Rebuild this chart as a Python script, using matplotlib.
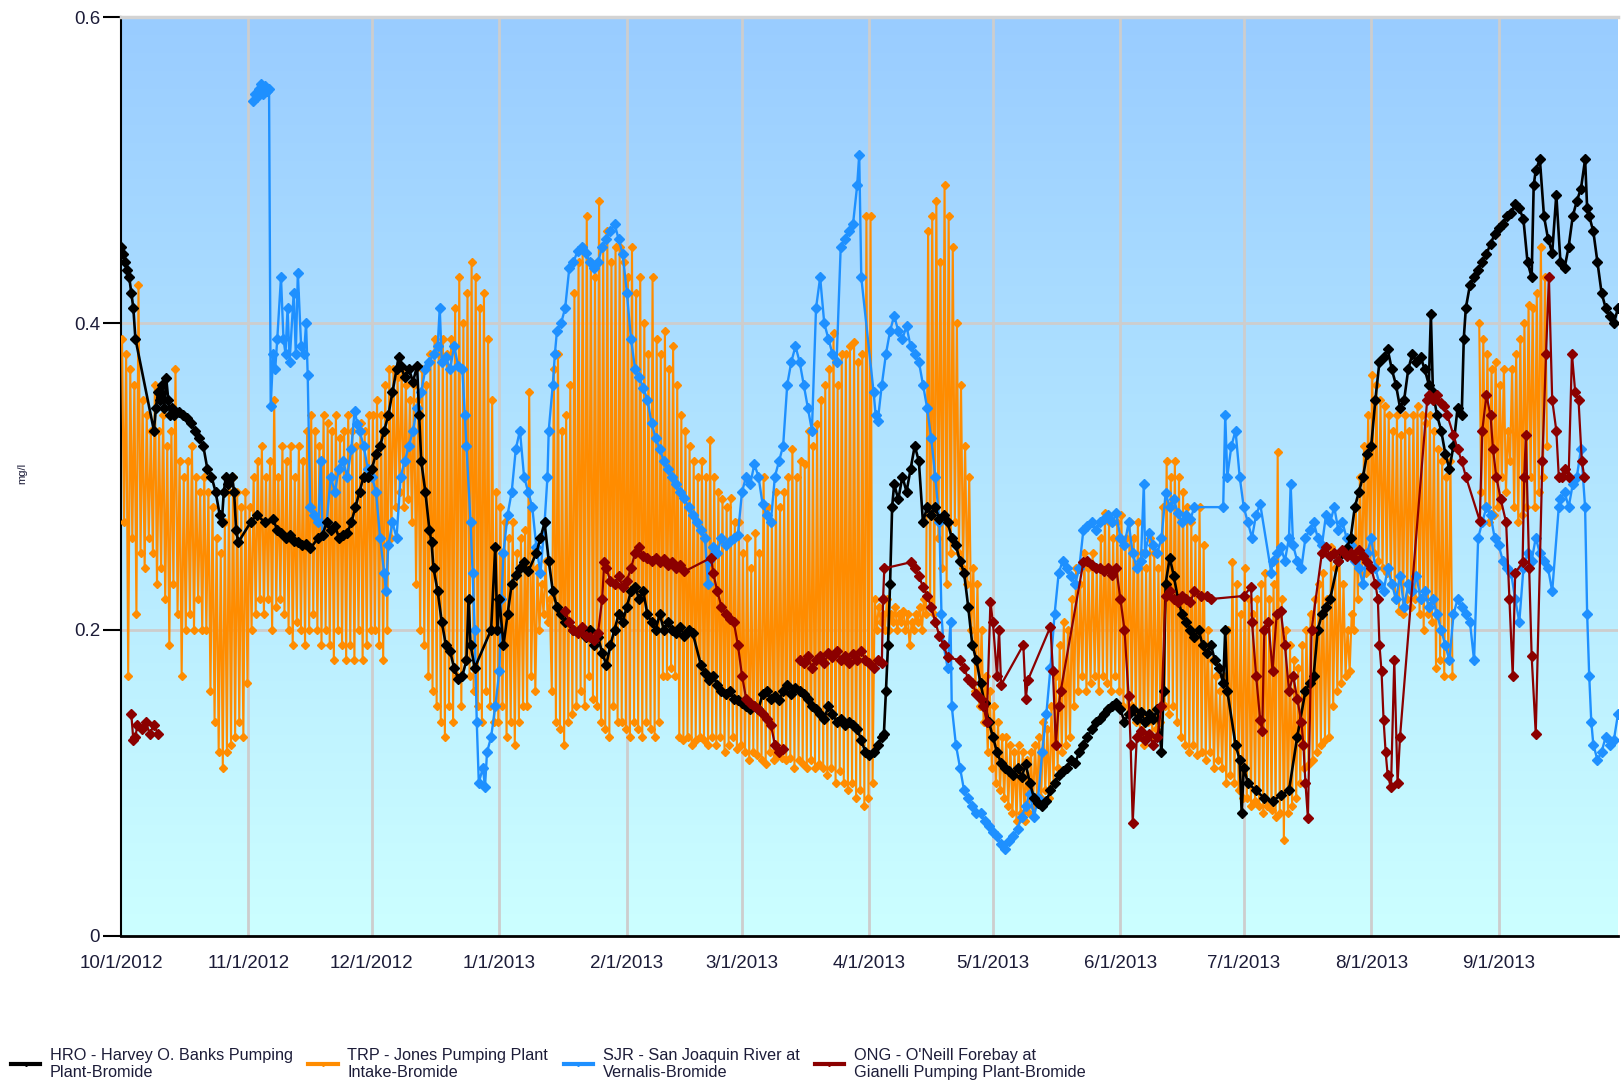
import datetime as dt
import numpy as np
import matplotlib
matplotlib.use("Agg")
import matplotlib.pyplot as plt
import matplotlib.dates as mdates
from matplotlib.colors import LinearSegmentedColormap
from matplotlib.lines import Line2D

plt.rcParams['font.family'] = ['Liberation Sans', 'DejaVu Sans']

# days counted from 10/1/2012
start = dt.datetime(2012, 10, 1)

# HRO - Harvey O. Banks (black)
hro_pts = [
    (0, .45), (.5, .445), (1, .44), (1.5, .435), (2, .43), (2.5, .42), (3, .41), (3.5, .39),
    (8, .33), (8.5, .345), (9, .355), (9.5, .35), (10, .36), (10.5, .345), (11, .364), (11.5, .35),
    (12, .34), (12.5, .345), (13, .34), (14, .342), (15, .34), (16, .338), (17, .335), (18, .33),
    (19, .325), (20, .32), (21, .305), (22, .30), (23, .29), (24, .275), (24.5, .27), (25, .29),
    (25.5, .30), (26, .295), (27, .30), (27.5, .29), (28, .265), (28.5, .257), (31.5, .27), (33, .275),
    (35, .27), (37, .272), (38, .265), (39, .263), (40, .26), (41, .262), (42, .258), (43, .257),
    (44, .255), (45, .256), (46, .253), (48, .26), (49, .262), (50, .27), (51, .265), (52, .268),
    (53, .26), (54, .262), (55, .263), (56, .27), (57, .28), (58, .29), (59, .30), (60, .30),
    (61, .305), (62, .315), (63, .32), (64, .33), (65, .34), (66, .355), (67, .37), (67.5, .378),
    (68, .372), (69, .365), (70, .37), (71, .362), (72, .372), (72.5, .34), (73, .31), (74, .29),
    (75, .265), (75.5, .257), (76, .24), (77, .225), (78, .205), (79, .19), (80, .186), (81, .175),
    (82, .168), (83, .17), (84, .18), (84.5, .22), (85, .19), (86, .175), (90, .20), (91, .254),
    (91.5, .20), (92, .22), (93, .19), (94, .21), (95, .23), (96, .236), (97, .24), (98, .244),
    (99, .238), (101, .25), (102, .26), (103, .27), (104, .245), (105, .225), (106, .215), (107, .21),
    (108, .205), (110, .20), (112, .20), (113, .195), (114, .20), (115, .19), (116, .195), (117, .185),
    (118, .177), (119, .19), (120, .20), (121, .21), (122, .205), (123, .215), (124, .225), (125, .228),
    (126, .22), (127, .225), (128, .21), (129, .205), (130, .20), (131, .21), (132, .20), (133, .205),
    (134, .20), (135, .198), (136, .202), (137, .196), (138, .20), (139, .198), (141, .177), (142, .172),
    (143, .167), (144, .17), (145, .164), (146, .16), (147, .158), (148, .16), (149, .155), (150, .154),
    (151, .152), (152, .15), (153, .148), (154, .15), (155, .148), (156, .158), (157, .16), (158, .155),
    (159, .157), (160, .154), (161, .16), (162, .164), (163, .158), (164, .162), (165, .16), (166, .158),
    (167, .155), (168, .15), (169, .148), (170, .145), (171, .142), (172, .15), (173, .145), (174, .14),
    (175, .142), (176, .138), (177, .14), (178, .138), (179, .135), (180, .128), (181, .12), (182, .118),
    (183, .12), (184, .125), (185, .13), (185.5, .132), (186, .16), (186.5, .19), (187, .23), (187.5, .28),
    (188, .295), (189, .285), (190, .30), (191, .29), (192, .305), (193, .32), (194, .31), (195, .27),
    (196, .28), (197, .275), (198, .28), (199, .272), (200, .275), (201, .27), (202, .26), (203, .255),
    (204, .245), (205, .237), (206, .215), (207, .19), (208, .18), (209, .165), (210, .152), (211, .14),
    (212, .13), (213, .12), (214, .113), (215, .11), (216, .108), (217, .105), (218, .11), (219, .104),
    (220, .112), (221, .10), (222, .09), (223, .087), (224, .085), (225, .088), (226, .095), (227, .10),
    (228, .105), (229, .108), (230, .11), (231, .115), (232, .113), (233, .12), (234, .125), (235, .13),
    (236, .135), (237, .14), (238, .142), (239, .145), (240, .148), (241, .15), (242, .152), (243, .148),
    (244, .14), (245, .145), (246, .148), (247, .142), (248, .146), (249, .14), (250, .145), (251, .142),
    (252, .148), (253, .12), (253.5, .16), (254, .23), (255, .247), (256, .235), (257, .22), (258, .21),
    (259, .205), (260, .20), (261, .195), (262, .20), (263, .19), (264, .185), (265, .19), (266, .18),
    (267, .175), (268, .165), (268.5, .20), (269, .16), (271, .125), (272, .115), (272.5, .08), (273, .11),
    (274, .10), (276, .095), (278, .09), (280, .088), (282, .092), (284, .095), (286, .13), (288, .16),
    (289, .165), (290, .17), (291, .20), (292, .21), (293, .215), (294, .22), (296, .245), (297, .25),
    (298, .253), (299, .26), (300, .28), (301, .29), (302, .30), (303, .315), (304, .32), (305, .35),
    (306, .375), (307, .378), (308, .383), (309, .37), (310, .36), (311, .345), (312, .35), (313, .37),
    (314, .38), (315, .375), (316, .378), (317, .37), (318, .36), (318.5, .406), (319, .355), (320, .34),
    (321, .33), (322, .315), (323, .305), (324, .32), (325, .345), (326, .34), (326.5, .39), (327, .41),
    (328, .425), (329, .43), (330, .435), (331, .44), (332, .445), (333, .452), (334, .458), (335, .462),
    (336, .465), (337, .47), (338, .472), (339, .478), (340, .475), (341, .468), (342, .44), (343, .43),
    (343.5, .49), (344, .50), (345, .507), (346, .47), (347, .455), (348, .446), (349, .484), (350, .44),
    (351, .436), (352, .45), (353, .47), (354, .48), (355, .488), (356, .507), (356.5, .475), (357, .47),
    (358, .46), (359, .44), (360, .42), (361, .41), (362, .405), (363, .40), (364, .41),
]

# TRP - Jones Pumping Plant (orange), daily high / low, None = no data
trp_hi = [
    .39, .38, .37, .36, .425, .35, .34, .33, .36, .33,
    .34, .32, .33, .37, .31, .30, .31, .32, .30, .29,
    .30, .29, .28, .26, .25, .27, .29, .30, .29, .28,
    .29, .28, .30, .31, .32, .30, .31, .35, .30, .32,
    .31, .32, .30, .32, .31, .33, .34, .33, .32, .34,
    .335, .33, .34, .325, .33, .34, .33, .32, .335, .33,
    .34, .34, .35, .34, .36, .37, .37, .365, .37, .36,
    .35, .36, .35, .37, .36, .38, .39, .38, .39, .38,
    .39, .41, .43, .40, .42, .44, .43, .41, .42, .39,
    .35, .29, .28, .27, .26, .27, .25, .26, .265, .355,
    .25, .24, .23, .245, .22, .37, .38, .33, .34, .36,
    .42, .44, .45, .47, .44, .43, .48, .45, .46, .44,
    .45, .45, .44, .43, .45, .42, .43, .40, .38, .43,
    .39, .38, .395, .37, .385, .36, .34, .33, .32, .31,
    .30, .31, .30, .324, .30, .29, .285, .28, .286, .27,
    .27, .25, .26, .24, .263, .25, .30, .28, .27, .29,
    .28, .29, .30, .318, .30, .31, .308, .33, .32, .334,
    .35, .36, .37, .394, .36, .38, .38, .385, .388, .375,
    .38, .47, .47, .22, .215, .21, .22, .21, .215, .21,
    .212, .21, .205, .21, .215, .22, .46, .47, .48, .44,
    .49, .47, .45, .40, .36, .32, .30, .24, .23, .20,
    .17, .16, .15, .14, .13, .13, .125, .12, .125, .12,
    .115, .12, .125, .13, .14, .135, .15, .17, .19, .205,
    .20, .22, .24, .23, .25, .24, .25, .24, .26, .276,
    .27, .26, .27, .275, .26, .27, .26, .27, .25, .24,
    .26, .25, .24, .28, .31, .30, .31, .30, .29, .28,
    .27, .26, .28, .255, .20, .18, .17, .16, .17, .20,
    .244, .23, .21, .24, .22, .21, .22, .23, .237, .22,
    .23, .316, .22, .20, .19, .18, .175, .19, .20, .21,
    .22, .23, .237, .22, .254, .24, .25, .23, .20, .21,
    .28, .30, .32, .34, .366, .36, .35, .346, .34, .33,
    .34, .327, .34, .33, .34, .346, .34, .335, .34, .33,
    .318, .31, .30, .31, None, None, None, None, None, None,
    .40, .39, .38, .37, .375, .36, .37, .33, .37, .38,
    .39, .40, .412, .41, .42, .45, .43,
]
trp_lo = [
    .27, .17, .26, .21, .25, .24, .26, .25, .23, .24,
    .22, .19, .23, .21, .17, .20, .21, .20, .22, .20,
    .20, .16, .14, .12, .11, .12, .125, .13, .14, .13,
    .165, .20, .21, .22, .21, .22, .20, .215, .22, .21,
    .20, .19, .205, .20, .19, .20, .21, .20, .19, .20,
    .19, .18, .20, .19, .18, .19, .18, .20, .18, .19,
    .20, .20, .19, .18, .20, .26, .28, .29, .28, .285,
    .27, .23, .20, .19, .17, .16, .15, .14, .13, .15,
    .14, .17, .15, .18, .17, .16, .15, .14, .16, .15,
    .14, .14, .15, .13, .14, .125, .14, .15, .15, .17,
    .16, .20, .21, .205, .16, .14, .135, .125, .14, .145,
    .15, .16, .15, .17, .155, .15, .14, .135, .13, .15,
    .14, .14, .135, .13, .14, .135, .13, .14, .135, .13,
    .14, .17, .17, .175, .17, .13, .128, .13, .125, .128,
    .13, .128, .125, .13, .125, .13, .12, .125, .13, .122,
    .125, .12, .115, .12, .118, .115, .112, .12, .115, .118,
    .116, .115, .116, .11, .115, .112, .11, .115, .11, .112,
    .11, .105, .11, .10, .108, .10, .095, .10, .09, .095,
    .085, .09, .10, .20, .205, .20, .20, .205, .20, .205,
    .20, .19, .20, .205, .20, .21, .22, .21, .26, .24,
    .23, .25, .27, .25, .24, .23, .20, .16, .15, .14,
    .12, .11, .10, .095, .09, .085, .08, .075, .08, .075,
    .08, .085, .09, .09, .095, .09, .10, .11, .12, .125,
    .13, .15, .16, .17, .16, .165, .17, .16, .17, .165,
    .16, .17, .16, .15, .145, .15, .14, .13, .125, .14,
    .13, .135, .14, .15, .145, .15, .14, .13, .125, .12,
    .125, .118, .12, .115, .12, .11, .115, .11, .10, .105,
    .10, .095, .09, .09, .085, .088, .085, .08, .085, .082,
    .078, .08, .063, .08, .085, .09, .10, .11, .112, .115,
    .12, .125, .128, .13, .15, .16, .165, .17, .173, .20,
    .22, .23, .237, .24, .25, .245, .24, .237, .23, .22,
    .212, .21, .22, .215, .22, .21, .20, .21, .205, .175,
    .18, .17, .18, .17, None, None, None, None, None, None,
    .29, .28, .27, .275, .28, .30, .29, .31, .28, .27,
    .275, .28, .30, .28, .29, .30, .32,
]

# SJR - San Joaquin River at Vernalis (blue)
sjr_pts = [
    (32, .545), (32.5, .55), (33, .548), (33.5, .553), (34, .556), (34.5, .55), (35, .555), (35.5, .552),
    (36, .553), (36.4, .346), (37, .38), (37.5, .37), (38, .39), (38.9, .43), (39.5, .39), (40, .38),
    (40.5, .41), (41, .375), (42, .42), (42.5, .38), (43, .433), (43.8, .385), (44.5, .38), (45, .40),
    (45.4, .366), (46, .28), (47, .275), (48, .27), (48.6, .31), (49, .262), (50, .27), (51, .30),
    (52, .29), (53, .305), (54, .31), (55, .30), (56, .318), (56.8, .343), (57.5, .334), (58, .33),
    (59, .32), (60, .305), (61, .30), (62, .29), (63, .26), (64, .237), (64.4, .225), (65, .255),
    (66, .27), (67, .26), (68, .30), (69, .31), (70, .32), (71, .33), (72, .345), (73, .355),
    (74, .37), (75, .375), (76, .38), (77, .385), (77.5, .41), (78, .375), (79, .378), (80, .37),
    (81, .385), (82, .372), (83, .37), (83.6, .34), (84, .32), (85, .27), (85.5, .237), (86, .20),
    (86.5, .14), (87, .10), (88, .11), (88.5, .097), (89, .12), (90, .13), (91, .15), (92, .173),
    (92.5, .22), (93, .25), (94, .275), (95, .29), (96, .318), (97, .33), (98, .30), (99, .29),
    (100, .28), (101, .254), (102, .237), (103, .27), (103.7, .30), (104, .33), (105, .36), (105.5, .38),
    (106, .395), (107, .40), (108, .41), (109, .436), (110, .44), (111, .447), (112, .45), (113, .446),
    (114, .44), (115, .436), (116, .44), (117, .45), (118, .455), (119, .46), (120, .465), (121, .455),
    (122, .445), (123, .42), (124, .39), (125, .37), (126, .365), (127, .358), (128, .35), (129, .335),
    (130, .325), (131, .318), (132, .31), (133, .305), (134, .30), (135, .295), (136, .29), (137, .286),
    (138, .28), (139, .275), (140, .27), (141, .265), (142, .26), (142.7, .23), (143, .245), (144, .254),
    (145, .25), (146, .26), (147, .255), (148, .258), (149, .26), (150, .262), (151, .29), (152, .30),
    (153, .295), (154, .308), (155, .30), (156, .282), (157, .275), (158, .27), (159, .30), (160, .31),
    (161, .32), (162, .36), (163, .375), (164, .385), (165, .375), (166, .36), (167, .345), (168, .33),
    (169, .41), (170, .43), (171, .40), (172, .39), (173, .38), (174, .375), (175, .45), (176, .455),
    (177, .46), (178, .465), (179, .49), (179.5, .51), (180, .43), (183, .355), (183.5, .34), (184, .336),
    (185, .36), (186, .38), (187, .395), (188, .405), (189, .395), (190, .39), (191, .398), (192, .385),
    (193, .38), (194, .375), (195, .36), (196, .345), (197, .325), (198, .30), (199, .27), (199.5, .21),
    (200, .19), (201, .175), (201.7, .205), (202, .15), (203, .125), (204, .11), (205, .095), (206, .09),
    (207, .085), (208, .08), (209, .08), (210, .075), (211, .072), (212, .068), (213, .065), (214, .06),
    (215, .057), (216, .062), (217, .065), (218, .07), (219, .078), (220, .085), (221, .093), (222, .078),
    (223, .09), (224, .12), (225, .145), (226, .175), (227, .21), (228, .237), (229, .245), (230, .24),
    (231, .235), (232, .23), (233, .24), (234, .265), (235, .268), (236, .27), (237, .265), (238, .27),
    (239, .272), (240, .275), (241, .27), (242, .276), (243, .26), (244, .255), (245, .27), (246, .25),
    (247, .24), (248, .245), (248.7, .295), (249, .25), (250, .263), (251, .255), (252, .25), (253, .26),
    (254, .289), (255, .28), (256, .285), (257, .276), (258, .27), (259, .275), (260, .272), (261, .28),
    (268, .28), (268.5, .34), (269, .30), (270, .32), (271, .33), (272, .30), (273, .28), (274, .27),
    (275, .26), (276, .275), (277, .282), (279.7, .237), (280, .245), (281, .25), (282, .254), (283, .245),
    (284, .26), (284.4, .295), (285, .255), (286, .245), (287, .24), (288, .26), (289, .265), (290, .27),
    (291, .26), (292, .255), (293, .275), (294, .27), (295, .28), (296, .265), (297, .27), (298, .26),
    (299, .255), (300, .245), (301, .24), (302, .23), (303, .25), (304, .26), (305, .24), (306, .23),
    (307, .225), (308, .24), (309, .23), (310, .22), (311, .235), (312, .215), (313, .23), (314, .225),
    (315, .235), (316, .22), (317, .225), (318, .215), (319, .22), (320, .21), (321, .20), (322, .19),
    (323, .18), (324, .21), (325, .22), (326, .215), (327, .21), (328, .205), (329, .18), (330, .26),
    (331, .27), (332, .28), (333, .275), (334, .26), (335, .255), (336, .245), (337, .24), (338, .237),
    (339, .22), (340, .205), (341, .24), (342, .25), (343, .245), (344, .26), (345, .25), (346, .245),
    (347, .24), (348, .225), (349.6, .28), (350, .285), (351, .29), (352, .28), (353, .295), (354, .30),
    (355, .318), (356, .28), (356.5, .21), (357, .17), (357.5, .14), (358, .125), (359, .115), (360, .12),
    (361, .13), (362, .125), (363, .128), (364, .145),
]

# ONG - O'Neill Forebay at Gianelli (dark red), None breaks the line
ong_pts = [
    (2.5, .145), (3, .128), (3.5, .13), (4, .138), (5, .135), (6, .14), (7, .132), (8, .138), (9, .132),
    (9.5, None),
    (108, .212), (109, .205), (110, .20), (111, .198), (112, .202), (113, .196), (114, .195), (115, .193),
    (116, .198), (117, .22), (117.5, .244), (118, .24), (119, .232), (120, .23), (121, .235), (122, .228),
    (123, .232), (124, .24), (125, .25), (126, .254), (127, .248), (128, .247), (129, .245), (130, .247),
    (131, .244), (132, .246), (133, .242), (134, .244), (135, .24), (136, .242), (137, .238), (143.5, .247),
    (144, .237), (145, .225), (146, .215), (147, .21), (148, .207), (149, .205), (150, .19), (151, .17),
    (152, .155), (153, .152), (154, .15), (155, .148), (156, .145), (157, .142), (158, .138), (159, .125),
    (160, .12), (161, .122), (163, None),
    (165, .18), (166, .178), (167, .183), (168, .175), (169, .18), (170, .183), (171, .178), (172, .185),
    (173, .182), (174, .186), (175, .18), (176, .183), (177, .178), (178, .184), (179, .18), (180, .186),
    (181, .18), (182, .178), (183, .175), (184, .18), (185, .178), (185.3, .22), (185.6, .24), (192, .244),
    (193, .24), (194, .235), (195, .228), (196, .222), (197, .215), (198, .205), (199, .196), (200, .19),
    (201, .182), (204, .18), (205, .175), (206, .168), (207, .165), (208, .158), (209, .155), (209.7, .15),
    (210.5, .14), (211.4, .218), (212, .205), (213, .17), (213.5, .20), (214, .164), (219.4, .19), (220, .155),
    (220.5, .167), (226, .202), (226.6, .173), (227.3, .125), (228, .15), (228.5, .16), (234, .244), (235, .245),
    (236, .242), (237, .24), (238, .24), (239, .238), (240, .24), (241, .236), (242, .24), (243, .22),
    (244, .20), (245, .157), (245.5, .125), (246, .074), (247, .13), (248, .134), (249, .128), (250, .132),
    (251, .125), (252, .13), (253, .15), (254, .222), (255, .225), (256, .22), (257, .218), (258, .222),
    (259, .22), (260, .218), (261, .225), (262.5, .222), (264, .222), (265, .22), (273, .222), (274.8, .228),
    (275, .205), (276, .17), (277, .141), (277.5, .134), (278, .20), (279, .205), (280, .173), (281, .21),
    (282, .212), (283, .19), (284, .16), (285, .17), (286, .155), (287, .14), (287.5, .125), (288, .10),
    (288.6, .077), (289.5, .20), (292, .25), (293, .254), (294, .248), (295, .25), (296, .245), (297, .252),
    (298, .248), (299, .25), (300, .246), (301, .252), (302, .248), (303, .244), (304, .24), (305, .23),
    (305.6, .22), (306, .19), (306.5, .173), (307, .141), (307.5, .12), (308, .105), (308.8, .097), (309.6, .18),
    (310.4, .10), (311, .13), (317.6, .35), (318, .353), (319, .35), (320, .353), (321, .348), (321.6, .346),
    (322.5, .34), (324, .327), (325, .318), (326, .31), (327, .30), (330.4, .271), (331, .33), (332, .353),
    (333, .34), (333.6, .318), (334.4, .30), (335.5, .285), (336.8, .27), (337.6, .22), (338.4, .17), (339, .237),
    (340.8, .244), (341.2, .30), (341.6, .327), (342.4, .24), (343, .183), (344, .132), (345.6, .31), (346.5, .38),
    (347.2, .43), (348, .35), (349, .33), (349.6, .30), (350.5, .30), (351.2, .305), (352, .30), (352.8, .38),
    (353.6, .355), (354.4, .35), (355.2, .31), (355.8, .30),
]

tick_labels = ['10/1/2012', '11/1/2012', '12/1/2012', '1/1/2013', '2/1/2013', '3/1/2013',
               '4/1/2013', '5/1/2013', '6/1/2013', '7/1/2013', '8/1/2013', '9/1/2013']
legend_labels = ['HRO - Harvey O. Banks Pumping\nPlant-Bromide',
                 'TRP - Jones Pumping Plant\nIntake-Bromide',
                 'SJR - San Joaquin River at\nVernalis-Bromide',
                 "ONG - O'Neill Forebay at\nGianelli Pumping Plant-Bromide"]
colors = ['black', '#FF8C00', '#1E90FF', '#8B0000']

base = mdates.date2num(start)


def to_xy(pts):
    d = np.array([p[0] for p in pts], dtype=float)
    v = np.array([np.nan if p[1] is None else p[1] for p in pts], dtype=float)
    return base + d, v


fig = plt.figure(figsize=(16.21, 10.89), dpi=100)
ax = fig.add_axes([121 / 1621, 1 - 936 / 1089, 1497 / 1621, 919 / 1089])

x0, x1 = base, base + 364
# gradient background
cmap = LinearSegmentedColormap.from_list('bg', ['#CCFFFF', '#99CCFF'])
ax.imshow(np.linspace(0, 1, 256).reshape(-1, 1), cmap=cmap, origin='lower',
          extent=[x0, x1, 0, 0.6], aspect='auto', zorder=0)

# month grid
tick_dates = [mdates.date2num(dt.datetime(2012 + (9 + i) // 12, (9 + i) % 12 + 1, 1)) for i in range(12)]
for t in tick_dates[1:]:
    ax.axvline(t, color='#CDCDCD', lw=2, zorder=1)
for yv in (0.2, 0.4):
    ax.axhline(yv, color='#CDCDCD', lw=2, zorder=1)

# TRP: high then low each day
tx, ty = [], []
for i, (h, l) in enumerate(zip(trp_hi, trp_lo)):
    if h is None:
        tx.append(base + i + 0.5)
        ty.append(np.nan)
        continue
    tx += [base + i + 0.25, base + i + 0.75]
    ty += [h, l]
ax.plot(tx, ty, color=colors[1], lw=1.5, marker='D', ms=4.2, zorder=3)

# SJR
sx, sy = to_xy(sjr_pts)
ax.plot(sx, sy, color=colors[2], lw=1.7, marker='D', ms=5.2, zorder=4)

# HRO
hx, hy = to_xy(hro_pts)
ax.plot(hx, hy, color=colors[0], lw=1.9, marker='D', ms=5.5, zorder=5)

# ONG
ox, oy = to_xy(ong_pts)
ax.plot(ox, oy, color=colors[3], lw=1.6, marker='D', ms=4.6, zorder=6)

ax.set_xlim(x0, x1)
ax.set_ylim(0, 0.6)

txt_color = '#1c1c38'
ax.set_xticks(tick_dates)
ax.set_xticklabels(tick_labels)
ax.set_yticks([0, 0.2, 0.4, 0.6])
ax.set_yticklabels(['0', '0.2', '0.4', '0.6'])
ax.tick_params(axis='x', length=0, pad=14, labelsize=13.5, labelcolor=txt_color)
ax.tick_params(axis='y', length=13, width=1.5, pad=2, labelsize=13.5, labelcolor=txt_color)

ax.spines['top'].set_color('#D3D3D3')
ax.spines['top'].set_linewidth(2.5)
ax.spines['right'].set_visible(False)
ax.spines['left'].set_linewidth(1.5)
ax.spines['bottom'].set_linewidth(2)

fig.text(22 / 1621, 1 - 473 / 1089, 'mg/l', rotation=90, fontsize=8,
         ha='center', va='center', color=txt_color)

handles = [Line2D([], [], color=c, lw=3, marker='D', ms=2) for c in colors]
leg = fig.legend(handles, legend_labels, loc='center left', bbox_to_anchor=(11 / 1621, 1 - 1064 / 1089),
                 ncol=4, frameon=False, fontsize=11.7, handlelength=1.8, handletextpad=0.6,
                 columnspacing=0.95, borderaxespad=0, borderpad=0.0)
for t in leg.get_texts():
    t.set_color(txt_color)
    t.set_linespacing(1.2)

fig.savefig('out.png', dpi=100)
